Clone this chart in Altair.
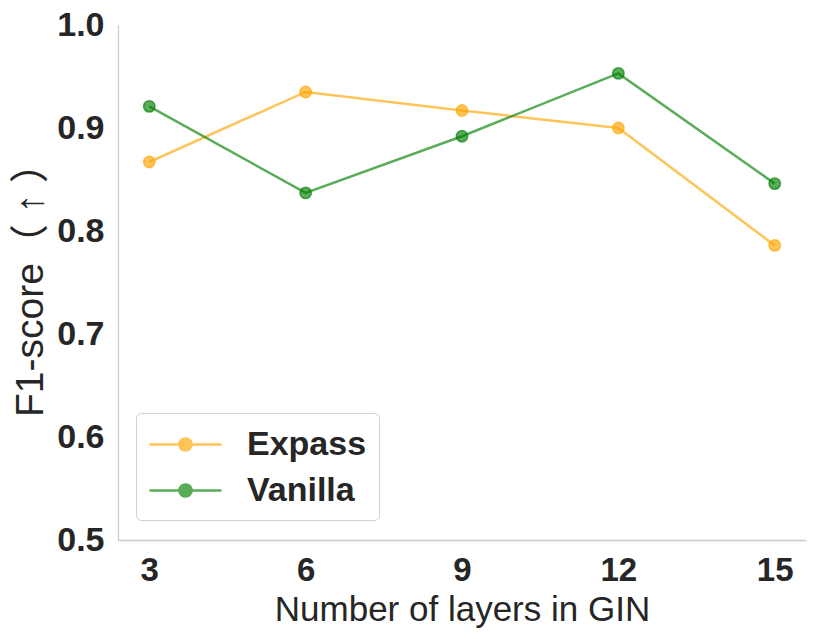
import altair as alt
import pandas as pd

layers = [3, 6, 9, 12, 15]
expass = [0.867, 0.935, 0.917, 0.900, 0.786]
vanilla = [0.921, 0.837, 0.892, 0.953, 0.846]
series_names = ["Expass", "Vanilla"]
series_colors = ["#ffa500", "#008000"]
y_ticks = [0.5, 0.6, 0.7, 0.8, 0.9, 1.0]

rows = []
for name, vals in zip(series_names, [expass, vanilla]):
    for x, v in zip(layers, vals):
        rows.append({"layers": x, "score": v, "method": name})
df = pd.DataFrame(rows)

FONT = "Liberation Sans, Arial, DejaVu Sans, Noto Sans CJK SC, sans-serif"

color = alt.Color(
    "method:N",
    scale=alt.Scale(domain=series_names, range=series_colors),
    sort=series_names,
    legend=alt.Legend(
        title=None,
        orient="none",
        legendX=18,
        legendY=388,
        symbolType="M -1 0 L 3 0 M 1.34 0 A 0.34 0.34 0 1 1 0.66 0 A 0.34 0.34 0 1 1 1.34 0 Z",
        symbolSize=1296,
        symbolStrokeWidth=2.5,
        symbolOpacity=0.65,
        labelOffset=60,
        labelFont=FONT,
        labelFontSize=34,
        labelFontWeight="bold",
        labelColor="#262626",
        rowPadding=9,
        padding=12,
        strokeColor="#d0d0d0",
        fillColor="white",
        cornerRadius=5,
    ),
)

x = alt.X(
    "layers:Q",
    scale=alt.Scale(domain=[2.4, 15.6], nice=False, zero=False),
    axis=alt.Axis(
        values=layers,
        title="Number of layers in GIN",
        format="d",
        grid=False,
        ticks=False,
        labelPadding=14,
        titlePadding=5,
        titleFontSize=35,
    ),
)
y = alt.Y(
    "score:Q",
    scale=alt.Scale(domain=[0.5, 1.0], nice=False, zero=False),
    axis=alt.Axis(
        values=y_ticks,
        title="F1-score（ ↑ ）",
        format=".1f",
        grid=False,
        ticks=False,
        labelPadding=14,
        labelFontSize=34,
        titlePadding=6,
        titleFontSize=39,
        titleY=255,
    ),
)

base = alt.Chart(df)
lines = base.mark_line(strokeWidth=2.5, opacity=0.65).encode(x=x, y=y, color=color)
points = base.mark_point(
    filled=True, size=130, shape="circle", fillOpacity=0.65, strokeOpacity=0.65, strokeWidth=1.5
).encode(x=x, y=y, color=color, stroke=alt.Stroke("method:N", scale=alt.Scale(domain=series_names, range=series_colors), legend=None))

chart = (
    alt.layer(lines, points)
    .properties(
        width=688,
        height=515,
        autosize=alt.AutoSizeParams(type="none"),
        padding={"left": 110, "top": 17, "right": 7, "bottom": 91},
    )
    .configure_view(stroke=None)
    .configure_axis(
        domainColor="#cccccc",
        domainWidth=1.3,
        labelFont=FONT,
        labelFontSize=33,
        labelFontWeight="bold",
        labelColor="#262626",
        titleFont=FONT,
        titleFontSize=33,
        titleFontWeight="normal",
        titleColor="#262626",
    )
)

chart.save("out.html", embed_options={"renderer": "svg", "actions": False})
